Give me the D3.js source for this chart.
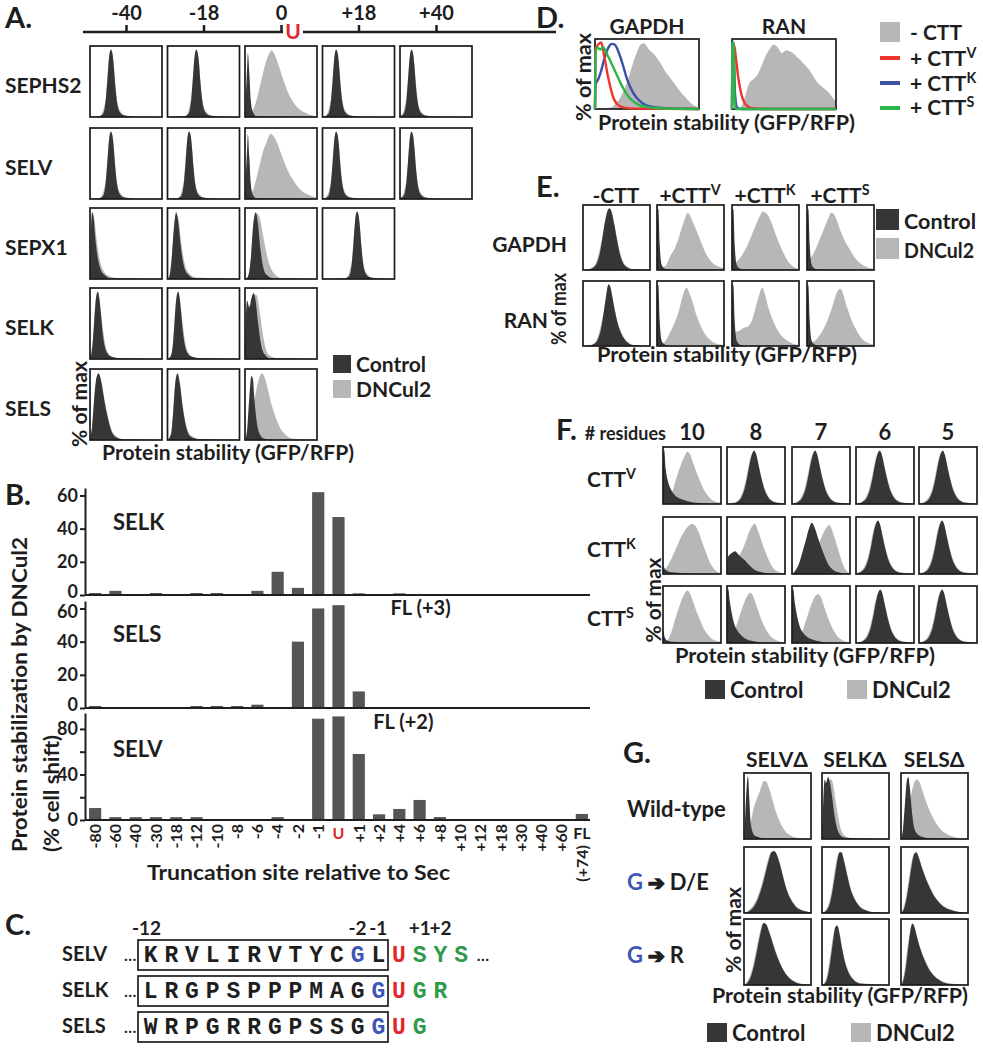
<!DOCTYPE html>
<html lang="en">
<head>
<meta charset="UTF-8" />
<title>Sec degron truncation figure</title>
<script src="https://d3js.org/d3.v7.min.js"></script>
<style>
  body { margin: 0; background: #fff; }
  svg text { font-family: "Lato", "Open Sans", sans-serif; font-weight: 700; }
  svg text.mono { font-family: "Liberation Mono", "DejaVu Sans Mono", monospace; }
</style>
</head>
<body>
<svg id="fig" width="983" height="1050"></svg>
<script>
// ---------- data ----------
// Panel A: truncation sites and proteins; histograms are [GFP/RFP %, % of max] points
const aSites = ["-40", "-18", "0", "+18", "+40"];
const aProteins = ["SEPHS2", "SELV", "SEPX1", "SELK", "SELS"];
const aControl = [
  [[[0,0],[13,1],[17,3],[20,10],[22,25],[24,50],[27,88],[29,95],[31,90],[33,72],[35,45],[38,18],[42,6],[48,2],[60,0.5],[100,0]],
   [[0,0],[24,1],[28,3],[31,10],[33,25],[35,50],[38,88],[40,95],[42,90],[44,72],[46,45],[49,18],[53,6],[59,2],[71,0.5],[100,0]],
   [[0,0],[1,25],[3,70],[4,90],[6,62],[8,24],[11,7],[16,1],[100,0]],
   [[0,0],[3,1],[7,3],[10,10],[12,25],[14,50],[17,88],[19,95],[21,90],[23,72],[25,45],[28,18],[32,6],[38,2],[50,0.5],[100,0]],
   [[0,0],[1,1],[4,3],[7,10],[9,25],[11,50],[14,88],[16,95],[18,90],[20,72],[22,45],[25,18],[29,6],[35,2],[47,0.5],[100,0]]],
  [[[0,0],[13,1],[17,3],[20,10],[22,25],[24,50],[27,88],[29,95],[31,90],[33,72],[35,45],[38,18],[42,6],[48,2],[60,0.5],[100,0]],
   [[0,0],[14,1],[18,3],[21,10],[23,25],[25,50],[28,88],[30,95],[32,90],[34,72],[36,45],[39,18],[43,6],[49,2],[61,0.5],[100,0]],
   [[0,0],[1,28],[3,72],[4,92],[6,60],[8,22],[11,6],[16,1],[100,0]],
   [[0,0],[3,1],[7,3],[10,10],[12,25],[14,50],[17,88],[19,95],[21,90],[23,72],[25,45],[28,18],[32,6],[38,2],[50,0.5],[100,0]],
   [[0,0],[1,1],[4,3],[7,10],[9,25],[11,50],[14,88],[16,95],[18,90],[20,72],[22,45],[25,18],[29,6],[35,2],[47,0.5],[100,0]]],
  [[[0,0],[1,55],[3,94],[5,88],[7,62],[10,35],[14,16],[20,6],[30,1],[100,0]],
   [[0,0],[3,5],[6,30],[9,72],[12,94],[15,80],[18,50],[22,22],[28,7],[38,1],[100,0]],
   [[0,0],[4,3],[8,28],[11,72],[15,94],[18,78],[21,46],[25,18],[30,6],[40,1],[100,0]],
   [[0,0],[32,1],[36,3],[39,10],[41,25],[43,50],[46,88],[48,95],[50,90],[52,72],[54,45],[57,18],[61,6],[67,2],[79,0.5],[100,0]],
   null],
  [[[0,0],[2,8],[4,25],[6,55],[9,90],[11,95],[13,85],[15,65],[17,42],[20,20],[24,8],[30,3],[40,1],[100,0]],
   [[0,0],[5,5],[8,25],[10,55],[13,90],[15,95],[17,85],[19,65],[21,42],[24,20],[28,8],[34,3],[44,1],[100,0]],
   [[0,0],[1,50],[3,82],[6,72],[9,86],[12,93],[15,80],[18,52],[22,22],[27,7],[35,1],[100,0]],
   null, null],
  [[[0,0],[3,20],[6,60],[9,88],[12,94],[16,80],[20,55],[25,30],[30,12],[36,4],[46,1],[100,0]],
   [[0,0],[5,8],[8,40],[11,82],[14,94],[17,80],[21,46],[26,18],[32,5],[45,1],[100,0]],
   [[0,0],[3,15],[6,60],[9,90],[11,86],[13,58],[16,28],[20,9],[26,2],[40,0],[100,0]],
   null, null]
];
const aDNCul2 = [
  [[[0,0],[12,1],[16,4],[19,12],[22,28],[24,52],[27,88],[29,93],[31,90],[33,74],[35,48],[38,21],[43,7],[50,2],[64,0.5],[100,0]],
   [[0,0],[23,1],[27,4],[30,12],[33,28],[35,52],[38,88],[40,93],[42,90],[44,74],[46,48],[49,21],[54,7],[61,2],[75,0.5],[100,0]],
   [[0,0],[5,2],[10,8],[15,20],[20,40],[25,62],[30,80],[34,90],[37,94],[41,88],[47,72],[54,50],[61,32],[69,18],[78,9],[88,4],[100,1]],
   [[0,0],[2,1],[6,4],[9,12],[12,28],[14,52],[17,88],[19,93],[21,90],[23,74],[25,48],[28,21],[33,7],[40,2],[54,0.5],[100,0]],
   [[0,0],[1,2],[3,4],[6,12],[9,28],[11,52],[14,88],[16,93],[18,90],[20,74],[22,48],[25,21],[30,7],[37,2],[51,0.5],[100,0]]],
  [[[0,0],[12,1],[16,4],[19,12],[22,28],[24,52],[27,88],[29,93],[31,90],[33,74],[35,48],[38,21],[43,7],[50,2],[64,0.5],[100,0]],
   [[0,0],[13,1],[17,4],[20,12],[23,28],[25,52],[28,88],[30,93],[32,90],[34,74],[36,48],[39,21],[44,7],[51,2],[65,0.5],[100,0]],
   [[0,0],[5,3],[10,10],[14,22],[18,38],[22,55],[26,70],[30,80],[33,88],[36,92],[40,88],[45,78],[50,64],[56,48],[62,35],[68,25],[75,15],[82,9],[90,5],[100,2]],
   [[0,0],[2,1],[6,4],[9,12],[12,28],[14,52],[17,88],[19,93],[21,90],[23,74],[25,48],[28,21],[33,7],[40,2],[54,0.5],[100,0]],
   [[0,0],[1,2],[3,4],[6,12],[9,28],[11,52],[14,88],[16,93],[18,90],[20,74],[22,48],[25,21],[30,7],[37,2],[51,0.5],[100,0]]],
  [[[0,0],[1,50],[3,90],[6,84],[9,58],[13,30],[18,13],[25,5],[40,1],[100,0]],
   [[0,0],[3,6],[6,34],[9,74],[13,90],[16,80],[19,52],[23,26],[29,9],[40,2],[100,0]],
   [[0,0],[5,5],[9,36],[13,78],[17,92],[21,84],[25,62],[29,40],[34,20],[41,7],[52,1],[100,0]],
   [[0,0],[31,1],[35,4],[38,12],[41,28],[43,52],[46,88],[48,93],[50,90],[52,74],[54,48],[57,21],[62,7],[69,2],[83,0.5],[100,0]],
   null],
  [[[0,0],[2,10],[4,28],[6,58],[9,90],[11,92],[13,86],[15,68],[18,42],[21,22],[25,9],[31,3],[42,1],[100,0]],
   [[0,0],[5,6],[8,28],[10,58],[13,90],[15,92],[17,86],[19,68],[22,42],[25,22],[29,9],[35,3],[46,1],[100,0]],
   [[0,0],[2,45],[4,75],[8,76],[12,90],[16,90],[20,70],[24,40],[28,18],[33,6],[45,1],[100,0]],
   null, null],
  [[[0,0],[3,18],[6,58],[9,86],[12,92],[16,82],[20,58],[25,33],[30,14],[37,5],[48,1],[100,0]],
   [[0,0],[5,10],[8,42],[11,82],[14,92],[17,82],[21,50],[26,21],[33,6],[46,1],[100,0]],
   [[0,0],[4,8],[8,30],[12,52],[16,72],[20,88],[24,94],[28,86],[33,66],[38,46],[44,28],[50,15],[58,6],[66,2],[100,0]],
   null, null]
];

// Panel B: % cell shift by truncation site
const bSites = ["-80","-60","-40","-30","-18","-12","-10","-8","-6","-4","-2","-1","U","+1","+2","+4","+6","+8","+10","+12","+18","+30","+40","+60","FL"];
const selkShift = [1.2,2.5,0,1.2,0,1.2,1.2,0,2.5,14,4.3,62,47,1,0,1,0,0,0,0,0,0,0,0,0];
const selsShift = [1.2,0,0,0,0,1.2,1.2,1.2,2,0,40,60,62,10,0,0,0,0,0,0,0,0,0,0,0];
const selvShift = [10.5,2.5,2.5,2.5,2.5,2.5,0,0,0,2.5,0,89,91,58,5,9.7,17.6,2.6,0,0,0,0,0,0,5.3];

// Panel C: sequences around Sec
const cProteins = ["SELV", "SELK", "SELS"];
const cBoxed = ["KRVLIRVTYCGL", "LRGPSPPPMAGG", "WRPGRRGPSSGG"];
const cAfter = ["USYS", "UGR", "UG"];
const cBluePos = [-2, -1, -1];
const cPosLabels = [["-12", -12], ["-2", -2], ["-1", -1], ["+1", 1], ["+2", 2]];

// Panel D: reporter histograms
const dGapdhMinus = [[0,0],[15,2],[20,8],[25,18],[30,35],[35,58],[40,80],[44,92],[47,94],[52,85],[57,78],[62,68],[67,55],[72,45],[77,35],[82,25],[88,15],[94,6],[100,2]];
const dGapdhV = [[0,0],[0.5,85],[3,92],[6,95],[9,75],[12,50],[15,30],[18,15],[22,6],[28,2],[40,0.5],[100,0]];
const dGapdhK = [[0,0],[0.5,35],[3,42],[6,55],[9,72],[13,88],[16,93],[19,92],[23,80],[27,62],[31,42],[35,28],[40,16],[46,8],[55,3],[70,1],[100,0]];
const dGapdhS = [[0,0],[0.5,80],[2,88],[5,85],[8,88],[11,80],[15,68],[19,55],[23,42],[27,30],[31,20],[36,12],[42,6],[50,3],[60,1],[100,0]];
const dRanMinus = [[0,0],[8,2],[12,15],[16,35],[20,42],[24,48],[28,60],[32,75],[36,85],[40,92],[44,88],[48,80],[52,84],[56,82],[60,78],[64,72],[68,66],[72,60],[76,52],[80,42],[84,35],[88,30],[92,25],[96,18],[100,10]];
const dRanV = [[0,0],[0.5,90],[2,92],[4,70],[6,45],[8,28],[10,16],[12,9],[15,4],[20,1],[30,0],[100,0]];
const dRanK = [[0,0],[0.5,95],[1.5,95],[3,20],[5,2],[8,0],[100,0]];
const dRanS = [[0,0],[0.5,95],[1.5,95],[2.5,10],[4,0],[100,0]];

// Panel E
const eCols = ["-CTT", "V", "K", "S"];
const eRows = ["GAPDH", "RAN"];
const spike = [[0,0],[0.5,92],[2,94],[4,40],[7,8],[12,2],[25,0],[100,0]];
const eControl = [
  [[[0,0],[12,2],[18,6],[22,14],[26,30],[29,50],[33,75],[37,92],[40,95],[43,88],[47,68],[51,45],[55,25],[60,10],[66,4],[75,1],[100,0]], spike, spike, spike],
  [[[0,0],[14,2],[20,6],[24,15],[28,32],[31,52],[35,80],[38,95],[41,90],[44,74],[48,52],[52,34],[56,22],[61,12],[67,5],[76,1],[100,0]], spike, spike, spike]
];
const eDNCul2 = [
  [[[0,0],[11,2],[17,7],[21,16],[25,32],[29,52],[33,76],[37,92],[40,94],[43,89],[47,70],[51,48],[55,28],[61,11],[68,4],[78,1],[100,0]],
   [[0,0],[8,3],[14,8],[20,22],[26,32],[32,48],[38,68],[42,80],[46,88],[50,82],[55,70],[60,58],[65,45],[70,32],[76,20],[82,12],[90,6],[100,3]],
   [[0,0],[5,10],[12,18],[18,28],[24,40],[30,55],[36,70],[42,84],[46,90],[50,88],[55,82],[60,70],[65,55],[70,42],[76,28],[82,16],[88,8],[95,3],[100,2]],
   [[0,0],[3,15],[8,22],[14,35],[20,50],[26,65],[32,80],[36,88],[40,86],[45,75],[50,60],[55,48],[60,38],[66,28],[72,18],[80,10],[88,5],[100,2]]],
  [[[0,0],[13,2],[19,7],[23,17],[27,34],[31,54],[35,80],[38,93],[41,90],[44,75],[48,54],[52,36],[56,24],[61,13],[68,5],[78,1],[100,0]],
   [[0,0],[8,3],[14,10],[20,22],[26,35],[32,52],[37,72],[41,85],[44,90],[48,82],[53,68],[58,50],[63,36],[68,25],[74,15],[80,9],[88,4],[100,2]],
   [[0,0],[2,20],[6,22],[12,24],[18,28],[24,30],[30,40],[36,62],[41,80],[45,90],[49,80],[54,60],[60,42],[66,28],[72,18],[80,10],[90,4],[100,2]],
   [[0,0],[5,3],[12,8],[18,15],[24,25],[30,38],[36,55],[42,75],[46,85],[50,88],[54,80],[58,65],[63,50],[68,36],[74,24],[80,14],[88,6],[100,2]]]
];

// Panel F: CTT length series
const fResidues = ["10", "8", "7", "6", "5"];
const fRows = ["V", "K", "S"];
const fControl = [
  [[[0,0],[0.5,90],[2,95],[5,60],[9,38],[14,25],[20,16],[28,10],[36,7],[46,4],[58,2],[72,1],[100,0]],
   [[0,0],[10,1],[18,4],[25,12],[30,25],[35,48],[40,75],[44,90],[47,94],[50,88],[55,65],[60,42],[65,24],[71,12],[78,5],[88,2],[100,0]],
   [[0,0],[5,1],[11,4],[18,12],[23,25],[28,48],[33,75],[37,90],[40,94],[43,88],[48,65],[53,42],[58,24],[64,12],[71,5],[81,2],[100,0]],
   [[0,0],[6,1],[12,4],[19,12],[24,25],[29,48],[34,75],[38,90],[41,94],[44,88],[49,65],[54,42],[59,24],[65,12],[72,5],[82,2],[100,0]],
   [[0,0],[6,1],[12,4],[19,12],[24,25],[29,48],[34,75],[38,90],[41,94],[44,88],[49,65],[54,42],[59,24],[65,12],[72,5],[82,2],[100,0]]],
  [[[0,0],[0.5,14],[3,9],[8,5],[15,3],[25,2],[40,1],[60,0],[100,0]],
   [[0,0],[1,28],[5,34],[10,38],[14,40],[18,36],[24,30],[30,25],[36,18],[42,12],[50,6],[60,3],[72,1],[100,0]],
   [[0,0],[5,5],[12,18],[18,38],[24,60],[30,82],[34,90],[38,84],[44,66],[50,48],[56,32],[62,18],[70,8],[80,3],[100,0]],
   [[0,0],[3,1],[9,4],[16,12],[21,25],[26,48],[31,75],[35,90],[38,94],[41,88],[46,65],[51,42],[56,24],[62,12],[69,5],[79,2],[100,0]],
   [[0,0],[5,1],[11,4],[18,12],[23,25],[28,48],[33,75],[37,90],[40,94],[43,88],[48,65],[53,42],[58,24],[64,12],[71,5],[81,2],[100,0]]],
  [[[0,0],[0.5,22],[3,10],[8,4],[18,2],[30,1],[100,0]],
   [[0,0],[0.5,88],[2,95],[5,72],[9,48],[13,32],[19,20],[26,12],[35,6],[46,3],[60,1],[100,0]],
   [[0,0],[0.5,90],[2,95],[5,70],[9,46],[13,30],[19,18],[26,11],[35,6],[46,3],[60,1],[100,0]],
   [[0,0],[7,1],[13,4],[20,12],[25,25],[30,48],[35,75],[39,90],[42,94],[45,88],[50,65],[55,42],[60,24],[66,12],[73,5],[83,2],[100,0]],
   [[0,0],[5,1],[11,4],[18,12],[23,25],[28,48],[33,75],[37,90],[40,94],[43,88],[48,65],[53,42],[58,24],[64,12],[71,5],[81,2],[100,0]]]
];
const fDNCul2 = [
  [[[0,0],[8,3],[14,15],[20,35],[26,55],[32,72],[38,86],[42,92],[46,88],[52,72],[58,55],[64,40],[70,26],[78,14],[86,6],[100,2]],
   [[0,0],[9,2],[17,5],[24,14],[29,28],[34,50],[39,76],[44,90],[47,92],[50,88],[55,67],[60,45],[65,27],[71,14],[78,6],[88,2],[100,0]],
   [[0,0],[4,2],[10,5],[17,14],[22,28],[27,50],[32,76],[37,90],[40,92],[43,88],[48,67],[53,45],[58,27],[64,14],[71,6],[81,2],[100,0]],
   [[0,0],[5,2],[11,5],[18,14],[23,28],[28,50],[33,76],[38,90],[41,92],[44,88],[49,67],[54,45],[59,27],[65,14],[72,6],[82,2],[100,0]],
   [[0,0],[5,2],[11,5],[18,14],[23,28],[28,50],[33,76],[38,90],[41,92],[44,88],[49,67],[54,45],[59,27],[65,14],[72,6],[82,2],[100,0]]],
  [[[0,0],[4,8],[10,18],[16,30],[22,44],[28,58],[34,70],[40,80],[46,86],[51,88],[56,84],[62,72],[68,55],[74,38],[80,22],[86,12],[92,5],[100,2]],
   [[0,0],[6,15],[14,28],[22,34],[28,46],[34,62],[40,78],[45,86],[48,88],[52,80],[57,66],[62,50],[68,34],[74,20],[80,10],[88,4],[100,1]],
   [[0,0],[20,5],[30,20],[40,40],[48,58],[54,72],[60,82],[64,86],[68,80],[74,62],[80,42],[86,22],[92,8],[100,2]],
   [[0,0],[2,2],[8,5],[15,14],[20,28],[25,50],[30,76],[35,90],[38,92],[41,88],[46,67],[51,45],[56,27],[62,14],[69,6],[79,2],[100,0]],
   [[0,0],[4,2],[10,5],[17,14],[22,28],[27,50],[32,76],[37,90],[40,92],[43,88],[48,67],[53,45],[58,27],[64,14],[71,6],[81,2],[100,0]]],
  [[[0,0],[8,5],[14,18],[20,38],[26,58],[32,75],[38,88],[42,92],[46,88],[52,72],[58,55],[64,40],[70,26],[78,14],[86,6],[100,2]],
   [[0,0],[6,5],[12,18],[18,36],[24,55],[30,72],[36,84],[40,88],[44,84],[50,68],[56,50],[62,34],[68,22],[76,11],[85,5],[100,1]],
   [[0,0],[10,5],[17,18],[23,36],[29,55],[35,72],[40,82],[45,86],[49,82],[54,68],[60,50],[66,34],[72,22],[79,11],[87,5],[100,1]],
   [[0,0],[6,2],[12,5],[19,14],[24,28],[29,50],[34,76],[39,90],[42,92],[45,88],[50,67],[55,45],[60,27],[66,14],[73,6],[83,2],[100,0]],
   [[0,0],[4,2],[10,5],[17,14],[22,28],[27,50],[32,76],[37,90],[40,92],[43,88],[48,67],[53,45],[58,27],[64,14],[71,6],[81,2],[100,0]]]
];

// Panel G: glycine mutants
const gCols = ["SELVΔ", "SELKΔ", "SELSΔ"];
const gControl = [
  [[[0,0],[2,40],[4,80],[6,95],[8,60],[10,25],[13,10],[18,4],[30,1],[100,0]],
   [[0,0],[2,60],[4,90],[6,85],[9,94],[12,85],[15,65],[18,40],[22,18],[27,6],[35,2],[100,0]],
   [[0,0],[3,15],[6,55],[9,90],[11,94],[13,80],[16,45],[19,20],[24,8],[32,3],[45,1],[100,0]]],
  [[[0,0],[8,3],[15,10],[21,22],[27,40],[32,60],[37,80],[41,92],[45,94],[49,88],[54,72],[59,52],[64,34],[70,20],[77,10],[86,4],[100,1]],
   [[0,0],[6,3],[11,12],[15,30],[19,55],[23,80],[26,92],[29,92],[33,78],[38,55],[43,35],[49,20],[56,10],[65,4],[78,1],[100,0]],
   [[0,0],[4,5],[8,20],[12,45],[16,72],[20,90],[23,92],[27,82],[32,66],[37,52],[42,40],[48,28],[55,18],[63,10],[73,5],[85,2],[100,0]]],
  [[[0,0],[5,3],[10,12],[15,30],[20,55],[25,80],[29,94],[33,92],[37,82],[42,66],[47,50],[53,34],[59,22],[66,12],[75,5],[87,1],[100,0]],
   [[0,0],[5,3],[9,15],[13,40],[17,70],[20,88],[23,90],[26,78],[30,55],[35,32],[41,16],[48,7],[58,2],[100,0]],
   [[0,0],[3,5],[7,25],[11,58],[14,82],[17,93],[20,88],[24,72],[29,54],[35,38],[41,25],[49,14],[58,7],[70,2],[100,0]]]
];
const gDNCul2 = [
  [[[0,0],[5,5],[10,25],[14,45],[18,58],[22,68],[26,80],[30,88],[34,86],[38,75],[43,58],[48,40],[54,25],[60,14],[68,6],[78,2],[100,0]],
   [[0,0],[3,55],[6,80],[10,88],[14,90],[17,80],[20,60],[24,35],[28,15],[34,5],[45,1],[100,0]],
   [[0,0],[6,10],[10,35],[14,60],[18,80],[21,88],[24,90],[28,85],[33,70],[38,55],[44,40],[50,28],[58,16],[66,9],[76,4],[88,1],[100,0]]],
  [[[0,0],[7,4],[14,12],[20,24],[26,42],[31,62],[36,81],[40,92],[45,93],[49,89],[54,74],[59,54],[64,36],[70,22],[77,11],[86,5],[100,1]],
   [[0,0],[5,4],[10,14],[14,32],[18,57],[22,81],[26,91],[29,91],[33,80],[38,58],[43,37],[49,22],[56,11],[65,5],[78,1],[100,0]],
   [[0,0],[3,6],[7,22],[11,47],[15,73],[19,89],[23,91],[27,84],[32,68],[37,54],[42,42],[48,30],[55,19],[63,11],[73,6],[85,2],[100,0]]],
  [[[0,0],[4,4],[9,14],[14,32],[19,57],[24,81],[29,93],[33,92],[37,83],[42,68],[47,52],[53,36],[59,23],[66,13],[75,6],[87,2],[100,0]],
   [[0,0],[4,4],[8,17],[12,42],[16,71],[20,87],[23,89],[26,80],[30,57],[35,34],[41,18],[48,8],[58,3],[100,0]],
   [[0,0],[2,6],[6,27],[10,60],[14,83],[17,92],[20,88],[24,74],[29,56],[35,40],[41,27],[49,15],[58,8],[70,3],[100,0]]]
];

// ---------- drawing ----------
const INK = "#1e1e1e", DARK = "#363636", GRAY = "#b7b7b7", BAR = "#555555";
const RED = "#e3262b", BLUE = "#3d55b5", GREEN = "#2e9a4a";
const LRED = "#f0342b", LBLUE = "#3c50a8", LGREEN = "#2fb34b";
const svg = d3.select("#fig");

function txt(x, y, s, o = {}) {
  const t = svg.append("text")
    .attr("x", x).attr("y", y)
    .attr("font-size", o.size || 21)
    .attr("text-anchor", o.anchor || "start")
    .attr("fill", o.fill || INK)
    .text(s);
  if (o.len) t.attr("textLength", o.len).attr("lengthAdjust", "spacingAndGlyphs");
  if (o.rot) t.attr("transform", `rotate(-90,${x},${y})`);
  return t;
}

function supTxt(x, y, base, sup, o = {}) {
  const size = o.size || 21;
  const t = txt(x, y, "", o);
  t.append("tspan").text(base);
  t.append("tspan").attr("dy", -size * 0.4).attr("font-size", size * 0.68).text(sup);
  return t;
}

function histBox(x0, y0, w, h, fills, lines) {
  const x = d3.scaleLinear().domain([0, 100]).range([x0, x0 + w]);
  const y = d3.scaleLinear().domain([0, 100]).range([y0 + h, y0]);
  const area = d3.area().x(d => x(d[0])).y0(y(0)).y1(d => y(d[1])).curve(d3.curveMonotoneX);
  const line = d3.line().x(d => x(d[0])).y(d => y(d[1])).curve(d3.curveMonotoneX);
  fills.forEach(s => { if (s.pts) svg.append("path").attr("d", area(s.pts)).attr("fill", s.color); });
  svg.append("rect").attr("x", x0).attr("y", y0).attr("width", w).attr("height", h)
    .attr("fill", "none").attr("stroke", "#1a1a1a").attr("stroke-width", 1.7);
  (lines || []).forEach(s => svg.append("path").attr("d", line(s.pts))
    .attr("fill", "none").attr("stroke", s.color).attr("stroke-width", 2.4));
}

function histGrid(xs, ys, w, h, ctrl, dn) {
  ys.forEach((yy, r) => xs.forEach((xx, c) => {
    if (!ctrl[r][c]) return;
    histBox(xx, yy, w, h, [{ pts: dn[r][c], color: GRAY }, { pts: ctrl[r][c], color: DARK }]);
  }));
}

function legend2(x1, x2, y, boxW, boxH, dy, size, lens) {
  svg.append("rect").attr("x", x1).attr("y", y).attr("width", boxW).attr("height", boxH).attr("fill", DARK);
  svg.append("rect").attr("x", x2).attr("y", y + dy).attr("width", boxW).attr("height", boxH).attr("fill", GRAY);
  txt(x1 + boxW + 5, y + boxH - 1, "Control", { size, len: lens && lens[0] });
  txt(x2 + boxW + 5, y + dy + boxH - 1, "DNCul2", { size, len: lens && lens[1] });
}

// ===== Panel A =====
txt(5, 28, "A.", { size: 29 });
const ax = d3.scalePoint().domain(aSites).range([126, 436]);
const aAxis = svg.append("g").attr("transform", "translate(0,32)")
  .call(d3.axisTop(ax).tickSize(7).tickPadding(5).tickSizeOuter(0));
aAxis.select(".domain").remove();
aAxis.selectAll("line").attr("stroke", INK).attr("stroke-width", 2.5);
aAxis.selectAll("text").attr("font-size", 20).attr("fill", INK);
svg.append("line").attr("x1", 83).attr("x2", ax("0") + 2).attr("y1", 32).attr("y2", 32).attr("stroke", INK).attr("stroke-width", 2.5);
svg.append("line").attr("x1", ax("0") + 22).attr("x2", 556).attr("y1", 32).attr("y2", 32).attr("stroke", INK).attr("stroke-width", 2.5);
txt(ax("0") + 12, 39, "U", { size: 21, anchor: "middle", fill: RED });

const aRowY = [46, 128, 208, 288, 369];
histGrid(aSites.map(s => ax(s) - 36), aRowY, 72, 71, aControl, aDNCul2);
aProteins.forEach((p, i) => txt(5, aRowY[i] + 47, p, { size: 21 }));
txt(87, 404, "% of max", { size: 20, anchor: "middle", rot: true, len: 86 });
txt(102, 460, "Protein stability (GFP/RFP)", { size: 21, len: 252 });
legend2(333, 333, 355, 18, 18, 25, 21);

// ===== Panel B =====
txt(5, 505, "B.", { size: 29 });
const bx = d3.scaleBand().domain(bSites).range([85, 592]).paddingInner(0.4).paddingOuter(0.2);
const bPanels = [
  { name: "SELK", vals: selkShift, y: d3.scaleLinear().domain([0, 64.5]).range([595, 488]), ticks: [0, 20, 40, 60], shown: [0, 20, 40, 60], nameY: 530 },
  { name: "SELS", vals: selsShift, y: d3.scaleLinear().domain([0, 64.5]).range([708, 601]), ticks: [0, 20, 40, 60], shown: [0, 20, 40, 60], nameY: 642 },
  { name: "SELV", vals: selvShift, y: d3.scaleLinear().domain([0, 94]).range([820, 713]), ticks: [0, 20, 40, 60, 80], shown: [0, 40, 80], nameY: 757 }
];
bPanels.forEach((p, pi) => {
  svg.append("g").selectAll("rect").data(p.vals.map((v, i) => ({ s: bSites[i], v })).filter(d => d.v > 0))
    .join("rect")
    .attr("x", d => bx(d.s)).attr("width", bx.bandwidth())
    .attr("y", d => p.y(d.v)).attr("height", d => p.y(0) - p.y(d.v))
    .attr("fill", BAR);
  const yA = svg.append("g").attr("transform", "translate(85,0)")
    .call(d3.axisLeft(p.y).tickValues(p.ticks).tickSize(5).tickSizeOuter(0).tickPadding(2)
      .tickFormat(d => p.shown.includes(d) ? d : ""));
  yA.selectAll("line,path").attr("stroke", INK).attr("stroke-width", 2);
  yA.selectAll("text").attr("font-size", 18).attr("fill", INK)
    .attr("dy", d => (d === 0 && pi < 2) ? "0.12em" : (d === 60 && pi > 0) ? "0.5em" : "0.32em");
  svg.append("line").attr("x1", 85).attr("x2", 590).attr("y1", p.y(0)).attr("y2", p.y(0)).attr("stroke", INK).attr("stroke-width", 2);
  txt(113, p.nameY, p.name, { size: 22 });
});
txt(bx("+6") + bx.bandwidth() / 2 + 1, 615, "FL (+3)", { size: 20, anchor: "middle" });
txt(bx("+4") + bx.bandwidth() / 2 + 4, 729, "FL (+2)", { size: 20, anchor: "middle" });

const selvY = bPanels[2].y;
const bxAxis = svg.append("g").attr("transform", `translate(0,${selvY(0)})`)
  .call(d3.axisBottom(bx).tickSize(0).tickPadding(0));
bxAxis.select(".domain").remove();
bxAxis.selectAll(".tick text").each(function (d) {
  const t = d3.select(this).attr("font-size", 16).attr("fill", INK);
  if (d === "U" || d === "FL") t.attr("y", 19).attr("dy", 0).attr("fill", d === "U" ? RED : INK);
  else t.attr("transform", "rotate(-90)").attr("x", -4).attr("y", 0).attr("dy", "0.36em").attr("text-anchor", "end");
});
txt(bx("FL") + bx.bandwidth() / 2 + 6, 845, "(+74)", { size: 16, anchor: "end", rot: true });
txt(27, 852, "Protein stabilization by DNCul2", { size: 21, rot: true, len: 315 });
txt(59, 852, "(% cell shift)", { size: 21, rot: true, len: 117 });
txt(147, 880, "Truncation site relative to Sec", { size: 21, len: 303 });

// ===== Panel C =====
txt(5, 935, "C.", { size: 29 });
const cx = d3.scaleLinear().domain([-12, 0]).range([150.6, 399]);
cPosLabels.forEach(([s, i]) => txt(cx(i) - (i === -12 ? 4 : 0), 935, s, { size: 19, anchor: "middle" }));
const cRowY = [940, 976, 1012];
cProteins.forEach((p, r) => {
  const y0 = cRowY[r], base = y0 + 22;
  txt(62, base - 1, p, { size: 20 });
  txt(124, base - 1, "…", { size: 16 });
  svg.append("rect").attr("x", 138).attr("y", y0).attr("width", 250).attr("height", 30)
    .attr("fill", "none").attr("stroke", INK).attr("stroke-width", 1.7);
  cBoxed[r].split("").forEach((ch, k) => {
    const pos = k - 12;
    txt(cx(pos), base, ch, { size: 23, anchor: "middle", fill: pos === cBluePos[r] ? BLUE : INK }).attr("class", "mono");
  });
  cAfter[r].split("").forEach((ch, k) => {
    txt(cx(k), base, ch, { size: 23, anchor: "middle", fill: k === 0 ? RED : GREEN }).attr("class", "mono");
  });
  if (r === 0) txt(cx(4) - 5, base - 1, "…", { size: 16 });
});

// ===== Panel D =====
txt(536, 28, "D.", { size: 29 });
txt(647, 34, "GAPDH", { size: 21, anchor: "middle" });
txt(784, 34, "RAN", { size: 21, anchor: "middle" });
histBox(595, 39, 104, 70, [{ pts: dGapdhMinus, color: GRAY }],
  [{ pts: dGapdhK, color: LBLUE }, { pts: dGapdhV, color: LRED }, { pts: dGapdhS, color: LGREEN }]);
histBox(732, 39, 104, 70, [{ pts: dRanMinus, color: GRAY }],
  [{ pts: dRanK, color: LBLUE }, { pts: dRanV, color: LRED }, { pts: dRanS, color: LGREEN }]);
txt(591, 77, "% of max", { size: 20, anchor: "middle", rot: true, len: 88 });
txt(598, 130, "Protein stability (GFP/RFP)", { size: 21, len: 257 });
svg.append("rect").attr("x", 880).attr("y", 22).attr("width", 20).attr("height", 20).attr("fill", GRAY);
txt(910, 40, "- CTT", { size: 21 });
[["V", LRED, 58, 66], ["K", LBLUE, 83, 91], ["S", LGREEN, 108, 115]].forEach(([s, c, ly, ty]) => {
  svg.append("line").attr("x1", 880).attr("x2", 900).attr("y1", ly).attr("y2", ly).attr("stroke", c).attr("stroke-width", 4);
  supTxt(910, ty, "+ CTT", s, { size: 21 });
});

// ===== Panel E =====
txt(536, 197, "E.", { size: 29 });
const eX = [583, 657, 732, 807], eY = [205, 281];
eCols.forEach((c, i) => {
  if (i === 0) txt(eX[i] + 33, 203, c, { size: 21, anchor: "middle" });
  else supTxt(eX[i] + 33, 203, "+CTT", c, { size: 21, anchor: "middle" });
});
histGrid(eX, eY, 67, 65, eControl, eDNCul2);
txt(567, eY[0] + 47, eRows[0], { size: 21, anchor: "end" });
txt(548, eY[1] + 47, eRows[1], { size: 21, anchor: "end" });
txt(566, 309, "% of max", { size: 20, anchor: "middle", rot: true, len: 72 });
txt(597, 362, "Protein stability (GFP/RFP)", { size: 21, len: 260 });
legend2(876, 876, 209, 23, 21, 29, 21, [72, 70]);

// ===== Panel F =====
txt(556, 440, "F.", { size: 29 });
txt(666, 440, "# residues", { size: 18, anchor: "end" });
const fX = [663, 727, 792, 856, 919], fY = [447, 517, 586];
fResidues.forEach((r, i) => txt(fX[i] + 29, 440, r, { size: 22, anchor: "middle" }));
histGrid(fX, fY, 58, 57, fControl, fDNCul2);
fRows.forEach((r, i) => supTxt(587, fY[i] + 40, "CTT", r, { size: 21 }));
txt(661, 600, "% of max", { size: 20, anchor: "middle", rot: true, len: 85 });
txt(675, 663, "Protein stability (GFP/RFP)", { size: 21, len: 260 });
legend2(705, 847, 680, 20, 19, 0, 22);

// ===== Panel G =====
txt(623, 763, "G.", { size: 29 });
const gX = [744, 822, 901], gY = [773, 847, 919];
gCols.forEach((c, i) => txt(gX[i] + 33, 767, c, { size: 21, anchor: "middle" }));
histGrid(gX, gY, 67, 66, gControl, gDNCul2);
txt(627, 817, "Wild-type", { size: 22 });
[["D/E", 890], ["R", 963]].forEach(([s, y]) => {
  const t = txt(627, y, "", { size: 22 });
  t.append("tspan").attr("fill", BLUE).text("G");
  t.append("tspan").attr("font-family", "DejaVu Sans").attr("font-size", 20).attr("dx", 5)
    .attr("stroke", INK).attr("stroke-width", 1.6).text("➔");
  t.append("tspan").attr("dx", 5).text(s);
});
txt(741, 930, "% of max", { size: 20, anchor: "middle", rot: true, len: 86 });
txt(712, 1003, "Protein stability (GFP/RFP)", { size: 21, len: 256 });
legend2(707, 851, 1023, 20, 19, 0, 22);
</script>
</body>
</html>
